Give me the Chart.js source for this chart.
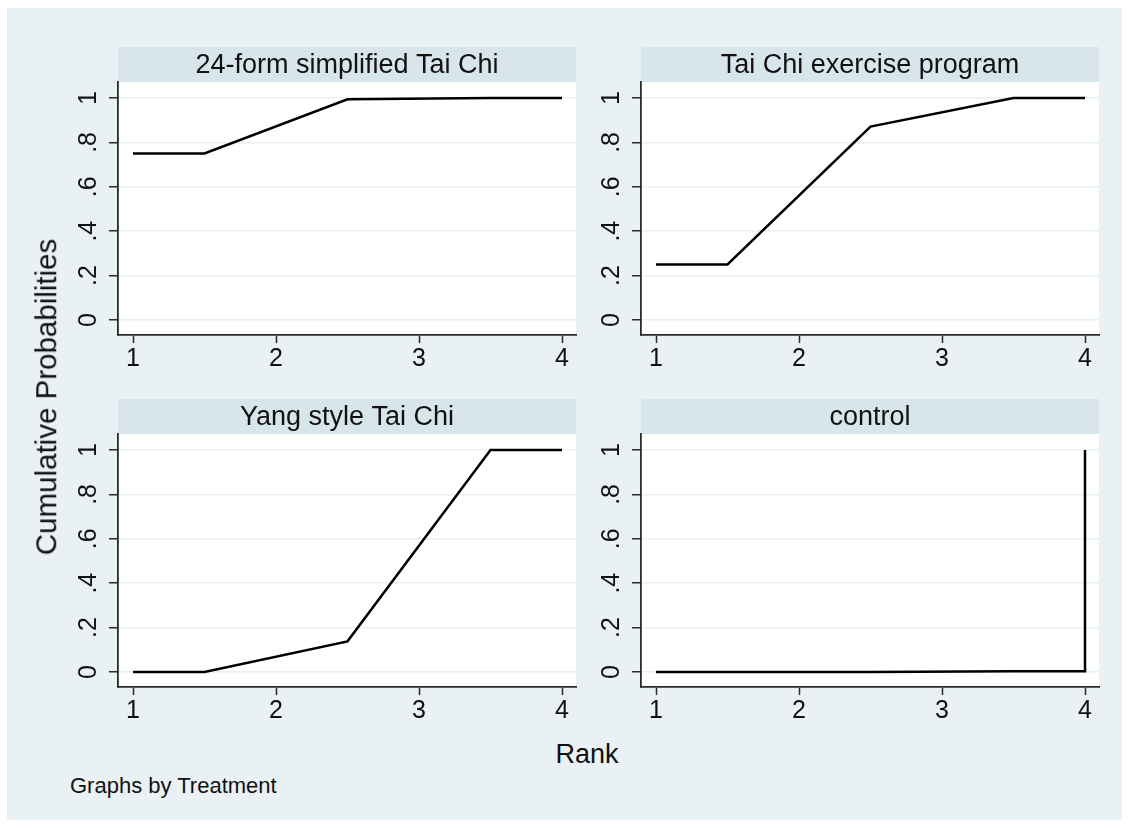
<!DOCTYPE html>
<html>
<head>
<meta charset="utf-8">
<script src="https://cdn.jsdelivr.net/npm/chart.js@4.4.1/dist/chart.umd.min.js"></script>
<style>
  body { margin: 0; background: #ffffff; font-family: "Liberation Sans", Arial, sans-serif; }
  #graph { position: relative; width: 1129px; height: 828px; }
  #region { position: absolute; left: 7px; top: 8px; width: 1115px; height: 812px; background: #e9f1f4; }
  .panel { position: absolute; }
  .label { position: absolute; color: #111; white-space: nowrap; line-height: 1; }
  #ytitle { left: 46px; top: 397px; font-size: 29.5px; transform: translate(-50%, -50%) rotate(-90deg); }
  #xtitle { left: 587px; top: 754px; font-size: 27px; transform: translate(-50%, -50%); }
  #note { left: 70px; top: 786px; font-size: 22px; transform: translate(0, -50%); }
</style>
</head>
<body>
<div id="graph">
  <div id="region"></div>
  <canvas class="panel" id="p0" width="530" height="333" style="left:60px;top:47px"></canvas>
  <canvas class="panel" id="p1" width="530" height="333" style="left:583px;top:47px"></canvas>
  <canvas class="panel" id="p2" width="530" height="333" style="left:60px;top:399px"></canvas>
  <canvas class="panel" id="p3" width="530" height="333" style="left:583px;top:399px"></canvas>
  <div class="label" id="ytitle">Cumulative Probabilities</div>
  <div class="label" id="xtitle">Rank</div>
  <div class="label" id="note">Graphs by Treatment</div>
</div>
<script>
// rank positions shared by every panel (last point doubles up so a step can go straight up)
const ranks = [1, 1.5, 2.5, 3.5, 4, 4];
const treatments = ['24-form simplified Tai Chi', 'Tai Chi exercise program', 'Yang style Tai Chi', 'control'];
const taiChi24 = [0.75, 0.75, 0.994, 1, 1, 1];
const taiChiProgram = [0.25, 0.25, 0.871, 1, 1, 1];
const yangStyle = [0, 0, 0.138, 1, 1, 1];
const control = [0, 0, 0, 0.003, 0.003, 1];
const rankTicks = [1, 2, 3, 4];
const probTicks = [0, 0.2, 0.4, 0.6, 0.8, 1];
const probTickLabels = ['0', '.2', '.4', '.6', '.8', '1'];

const seriesList = [taiChi24, taiChiProgram, yangStyle, control];
const axisColor = '#2a2a2a';
const textColor = '#111111';
const fontFamily = '"Liberation Sans", Arial, sans-serif';

// white plot region plus the grey strip holding the treatment name
const stripPlugin = {
    id: 'strip',
    beforeDraw(chart, args, opts) {
        const { ctx, chartArea } = chart;
        ctx.save();
        ctx.fillStyle = '#ffffff';
        ctx.fillRect(chartArea.left, chartArea.top, chartArea.right - chartArea.left, chartArea.bottom - chartArea.top);
        ctx.fillStyle = '#d8e5eb';
        ctx.fillRect(chartArea.left, 0, chartArea.right - chartArea.left, chartArea.top);
        ctx.fillStyle = textColor;
        ctx.font = '27px ' + fontFamily;
        ctx.textAlign = 'center';
        ctx.textBaseline = 'middle';
        ctx.fillText(opts.text, (chartArea.left + chartArea.right) / 2, chartArea.top / 2 + 1);
        ctx.restore();
    }
};

// vertical y tick labels, read bottom to top
const yLabelPlugin = {
    id: 'yLabels',
    afterDraw(chart) {
        const { ctx } = chart;
        const scale = chart.scales.y;
        ctx.save();
        ctx.fillStyle = textColor;
        ctx.font = '25px ' + fontFamily;
        ctx.textAlign = 'center';
        ctx.textBaseline = 'middle';
        scale.ticks.forEach((tick, i) => {
            const y = scale.getPixelForValue(tick.value);
            ctx.save();
            ctx.translate(scale.right - 29, y);
            ctx.rotate(-Math.PI / 2);
            ctx.fillText(probTickLabels[i], 0, 0);
            ctx.restore();
        });
        ctx.restore();
    }
};

function makePanel(id, title, values) {
    const ctx = document.getElementById(id).getContext('2d');
    return new Chart(ctx, {
        type: 'line',
        data: {
            datasets: [{
                data: ranks.map((r, i) => ({ x: r, y: values[i] })),
                borderColor: '#000000',
                borderWidth: 2.5,
                pointRadius: 0,
                tension: 0,
                fill: false
            }]
        },
        options: {
            responsive: false,
            animation: false,
            devicePixelRatio: 1,
            layout: { padding: { top: 35, right: 14, left: 0, bottom: 0 } },
            scales: {
                x: {
                    type: 'linear',
                    min: 1 - 15 / 143,
                    max: 4 + 14 / 143,
                    afterBuildTicks: scale => { scale.ticks = rankTicks.map(v => ({ value: v })); },
                    afterFit: scale => { scale.height = 45; },
                    grid: { drawOnChartArea: false, tickLength: 8, tickColor: axisColor, tickWidth: 1.5 },
                    border: { color: axisColor, width: 1.8 },
                    ticks: {
                        color: textColor,
                        font: { family: fontFamily, size: 25 },
                        padding: 1,
                        maxRotation: 0,
                        callback: v => String(v)
                    }
                },
                y: {
                    type: 'linear',
                    min: -15 / 222,
                    max: 1 + 16 / 222,
                    afterBuildTicks: scale => { scale.ticks = probTicks.map(v => ({ value: v })); },
                    afterFit: scale => { scale.width = 58; },
                    grid: { color: '#e8f0f3', lineWidth: 1.5, tickLength: 9, tickColor: axisColor, tickWidth: 1.5 },
                    border: { color: axisColor, width: 1.8 },
                    ticks: { display: false }
                }
            },
            plugins: {
                legend: { display: false },
                tooltip: { enabled: false },
                strip: { text: title }
            }
        },
        plugins: [stripPlugin, yLabelPlugin]
    });
}

seriesList.forEach((values, i) => makePanel('p' + i, treatments[i], values));
</script>
</body>
</html>
